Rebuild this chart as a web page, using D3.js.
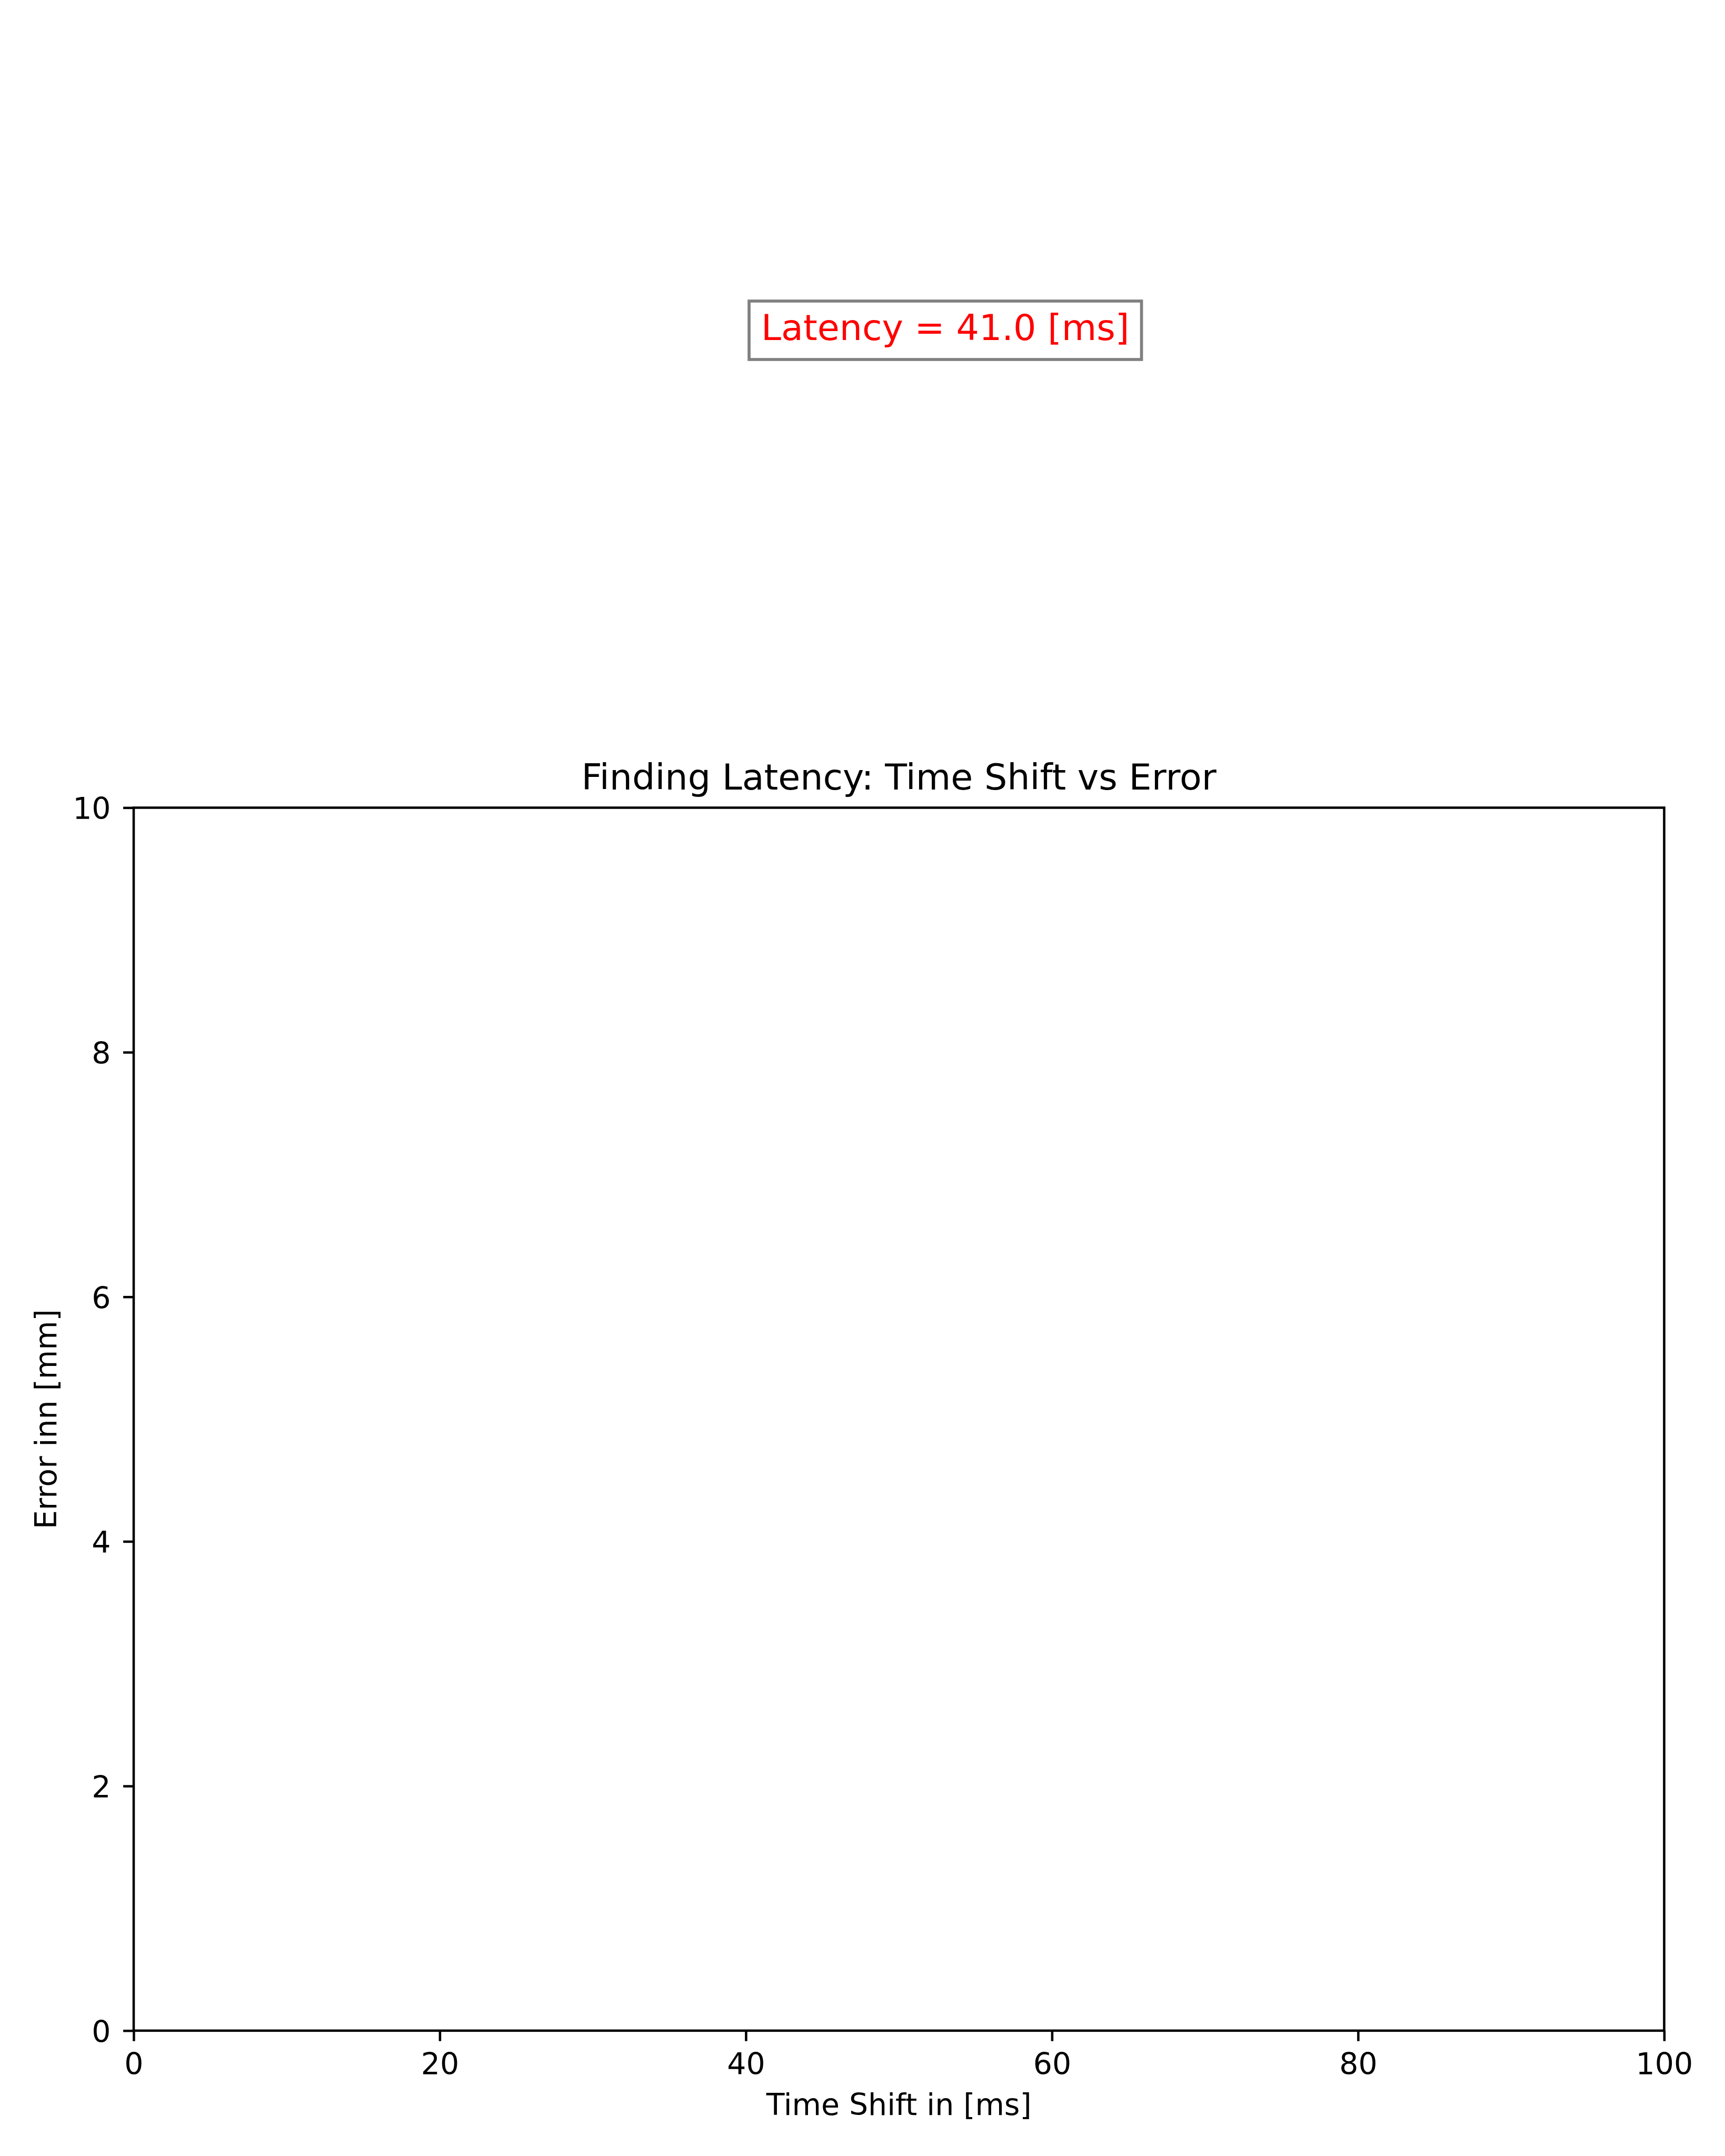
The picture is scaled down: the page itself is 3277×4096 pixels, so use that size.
<!DOCTYPE html>
<html>
<head>
<meta charset="utf-8">
<script src="https://cdn.jsdelivr.net/npm/d3@7"></script>
<style>
  html, body { margin: 0; padding: 0; background: #ffffff; }
  svg { display: block; }
  text { font-family: "DejaVu Sans", sans-serif; }
</style>
</head>
<body>
<script>
// ---- data ----
const xDomain = [0, 100];
const yDomain = [0, 10];
const xTicks = [0, 20, 40, 60, 80, 100];
const yTicks = [0, 2, 4, 6, 8, 10];
const titleText = "Finding Latency: Time Shift vs Error";
const xLabelText = "Time Shift in [ms]";
const yLabelText = "Error inn [mm]";
const latencyValue = 41.0;
const annotationText = "Latency = " + latencyValue.toFixed(1) + " [ms]";

(function () {
// ---- layout (reference pixel space 4000x5000, scaled to window) ----
const W = 3277, H = 4096;
const s = W / 4000;
const pt = 500 / 72;           // reference dpi 500
const lw = 0.8 * pt;
const tickLen = 3.5 * pt;
const fsTick = 10 * pt, fsTitle = 12 * pt;
const margin = { left: 310, right: 4000 - 3859, top: 1873, bottom: 5000 - 4709 };
const plotW = 4000 - margin.left - margin.right;
const plotH = 5000 - margin.top - margin.bottom;

const svg = d3.select("body").append("svg")
  .attr("width", W).attr("height", H)
  .attr("viewBox", `0 0 ${W} ${H}`);
svg.append("rect").attr("width", W).attr("height", H).attr("fill", "#ffffff");

const root = svg.append("g").attr("transform", `scale(${s})`);
const g = root.append("g").attr("transform", `translate(${margin.left},${margin.top})`);

const x = d3.scaleLinear().domain(xDomain).range([0, plotW]);
const y = d3.scaleLinear().domain(yDomain).range([plotH, 0]);

// axes
const xAxis = g.append("g")
  .attr("transform", `translate(0,${plotH})`)
  .call(d3.axisBottom(x).tickValues(xTicks).tickFormat(d3.format("d"))
    .tickSize(tickLen).tickSizeOuter(0).tickPadding(27.4));
const yAxis = g.append("g")
  .call(d3.axisLeft(y).tickValues(yTicks).tickFormat(d3.format("d"))
    .tickSize(tickLen).tickSizeOuter(0).tickPadding(28.7));

[xAxis, yAxis].forEach(ax => {
  ax.select(".domain").remove();
  ax.selectAll(".tick line").attr("stroke", "#000").attr("stroke-width", lw);
  ax.selectAll(".tick text").attr("fill", "#000")
    .style("font-family", "'DejaVu Sans', sans-serif")
    .attr("font-size", fsTick);
});
yAxis.selectAll(".tick text").attr("dy", "0.375em");

// frame (spines)
g.append("rect")
  .attr("x", x(xDomain[0])).attr("y", y(yDomain[1]))
  .attr("width", x(xDomain[1]) - x(xDomain[0]))
  .attr("height", y(yDomain[0]) - y(yDomain[1]))
  .attr("fill", "none").attr("stroke", "#000").attr("stroke-width", lw)
  .attr("stroke-linejoin", "miter");

// title
g.append("text")
  .attr("x", plotW / 2).attr("y", -6 * pt)
  .attr("text-anchor", "middle")
  .attr("font-size", fsTitle).attr("fill", "#000")
  .text(titleText);

// x label
g.append("text")
  .attr("x", plotW / 2).attr("y", plotH + 196)
  .attr("text-anchor", "middle")
  .attr("font-size", fsTick).attr("fill", "#000")
  .text(xLabelText);

// y label
g.append("text")
  .attr("transform", `translate(${131 - margin.left},${plotH / 2}) rotate(-90)`)
  .attr("text-anchor", "middle")
  .attr("font-size", fsTick).attr("fill", "#000")
  .text(yLabelText);

// annotation box
const ann = root.append("g");
const annRect = ann.append("rect");
const annX = 2192, annBase = 788;
const annText = ann.append("text")
  .attr("x", annX).attr("y", annBase)
  .attr("text-anchor", "middle")
  .attr("font-size", fsTitle).attr("fill", "#ff0000")
  .text(annotationText);
const bb = annText.node().getBBox();
const boxW = 910;
const padTop = 12.5, padBottom = 26;
const boxTop = annBase - 0.928 * fsTitle - padTop;
const boxBottom = annBase + 0.236 * fsTitle + padBottom;
annRect
  .attr("x", bb.x + bb.width / 2 - boxW / 2).attr("y", boxTop)
  .attr("width", boxW).attr("height", boxBottom - boxTop)
  .attr("fill", "#ffffff").attr("stroke", "#808080").attr("stroke-width", 1 * pt);
})();
</script>
</body>
</html>
